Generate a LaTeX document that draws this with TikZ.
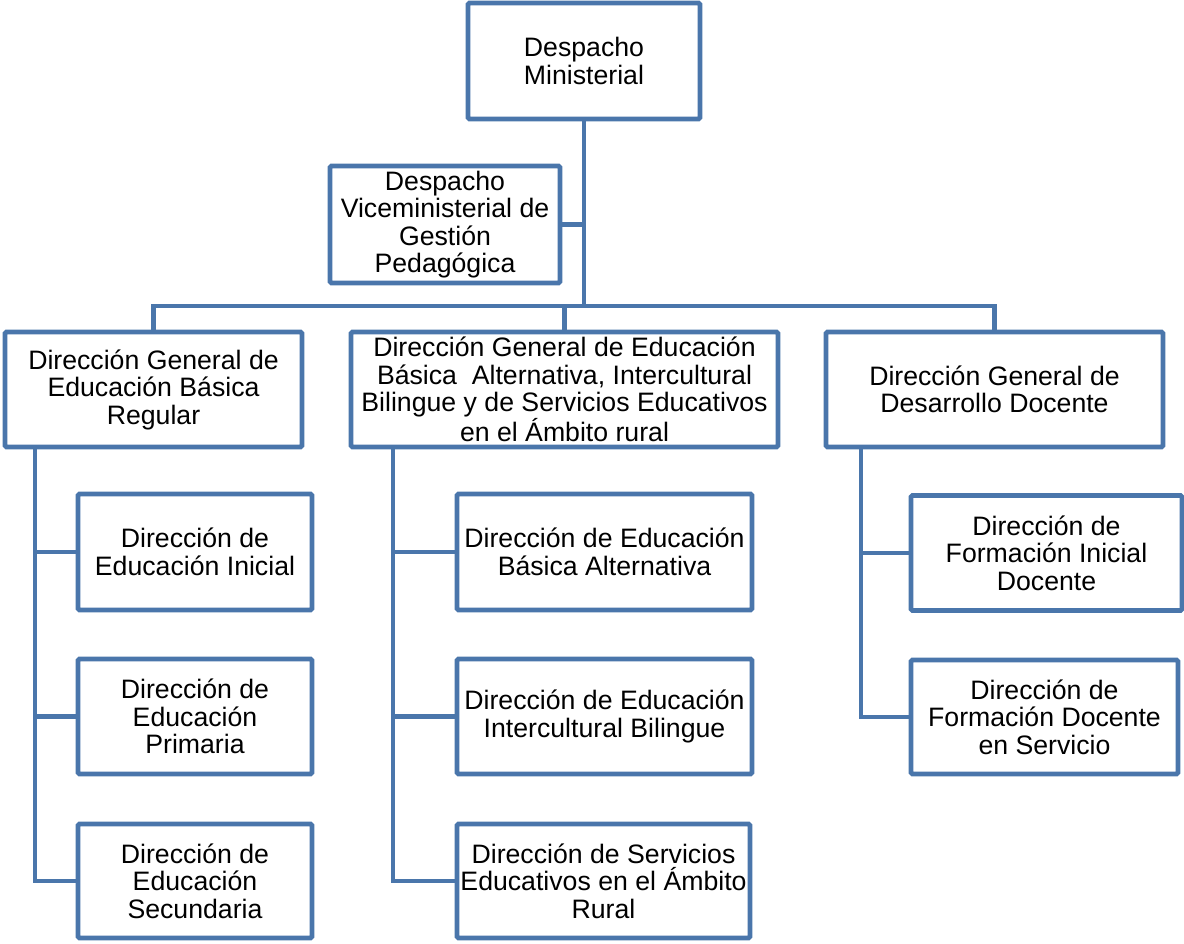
\documentclass[tikz,border=0pt]{standalone}
\usepackage{fontspec}
\setmainfont{Liberation Sans}
\usepackage{xcolor}
\definecolor{orgblue}{RGB}{74,118,171}
\tikzset{unit/.style={draw=orgblue,line width=3.5pt,rounded corners=1pt,fill=white,align=center,inner xsep=1pt,
		font=\fontsize{20}{20.6}\selectfont},
	wh/.style 2 args={minimum width=#1*0.75pt,minimum height=#2*0.75pt},
	link/.style={draw=orgblue,line width=3.5pt}}

\begin{document}
\begin{tikzpicture}[x=0.75pt,y=-0.75pt]
	\useasboundingbox (0,0) rectangle (1184,944);
	% top
	\node[unit,wh={232}{116}] (min) at (584,61) {Despacho\\Ministerial};
	\node[unit,wh={230}{117}] (vice) at (445,224.5) {Despacho\\Viceministerial de\\Gesti\'on\\Pedag\'ogica};
	\coordinate (bar) at (584,306);
	% direcciones generales
	\node[unit,wh={297}{115}] (dgebr) at (153.5,389.5) {Direcci\'on General de\\Educaci\'on B\'asica\\Regular};
	\node[unit,wh={427}{115}] (dgeib) at (564.5,389.5) {Direcci\'on General de Educaci\'on\\B\'asica\ \ Alternativa, Intercultural\\Bilingue y de Servicios Educativos\\en el \'Ambito rural};
	\node[unit,wh={337}{115}] (dgdd) at (994.5,389.5) {Direcci\'on General de\\Desarrollo Docente};
	% left column
	\node[unit,wh={234}{116}] (ini) at (195,552) {Direcci\'on de\\Educaci\'on Inicial};
	\node[unit,wh={234}{115}] (pri) at (195,716.5) {Direcci\'on de\\Educaci\'on\\Primaria};
	\node[unit,wh={234}{114}] (sec) at (195,881) {Direcci\'on de\\Educaci\'on\\Secundaria};
	% middle column
	\node[unit,wh={295}{116}] (alt) at (604.5,552) {Direcci\'on de Educaci\'on\\B\'asica Alternativa};
	\node[unit,wh={295}{115}] (bil) at (604.5,716.5) {Direcci\'on de Educaci\'on\\Intercultural Bilingue};
	\node[unit,wh={293}{114}] (rur) at (603.5,881) {Direcci\'on de Servicios\\Educativos en el \'Ambito\\Rural};
	% right column
	\node[unit,wh={271}{115}] (fid) at (1046.5,553) {Direcci\'on de\\Formaci\'on Inicial\\Docente};
	\node[unit,wh={267}{114}] (fds) at (1044.5,717) {Direcci\'on de\\Formaci\'on Docente\\en Servicio};
	% connectors
	\draw[link] (min) -- (bar);
	\draw[link] (vice) -- (vice -| bar);
	\draw[link] (dgebr) |- (bar) -| (dgdd);
	\draw[link] (dgeib) -- (dgeib |- bar);
	\coordinate (lt) at (35,447);
	\coordinate (mt) at (393,447);
	\coordinate (rt) at (861,447);
	\foreach \c in {ini,pri,sec} \draw[link] (lt) |- (\c);
	\foreach \c in {alt,bil,rur} \draw[link] (mt) |- (\c);
	\foreach \c in {fid,fds} \draw[link] (rt) |- (\c);
\end{tikzpicture}
\end{document}
